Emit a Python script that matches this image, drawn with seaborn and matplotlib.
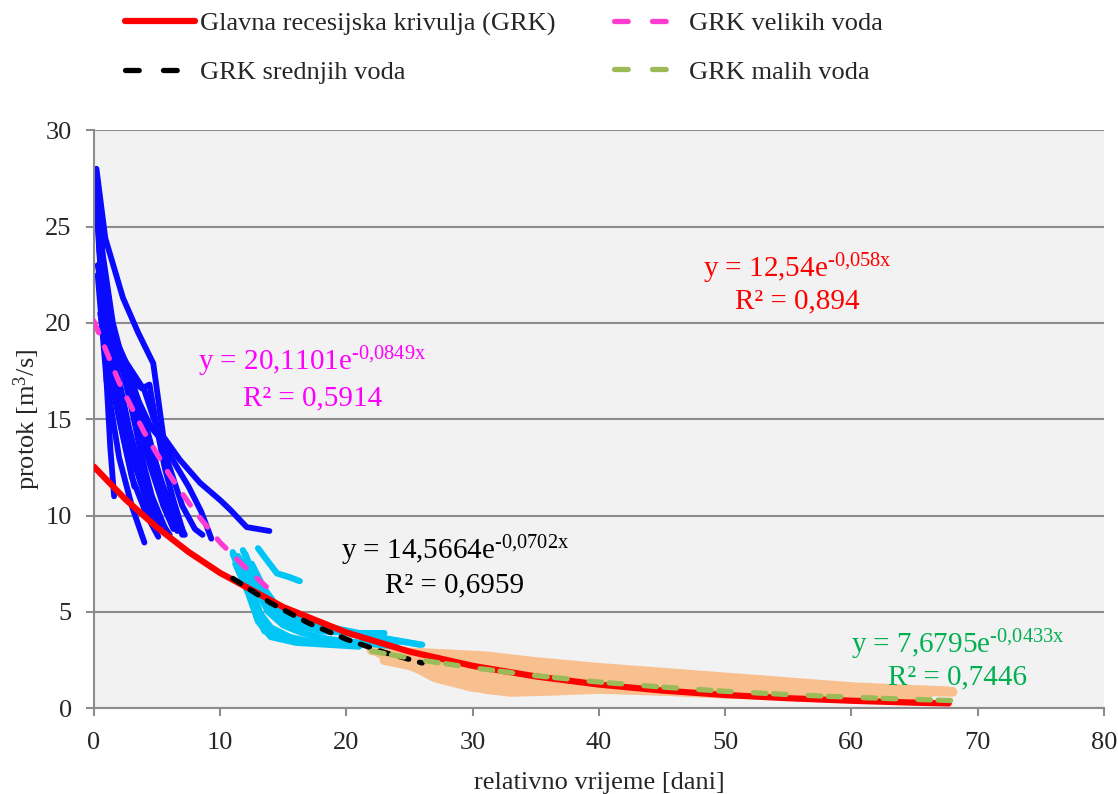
import pandas as pd
import matplotlib.pyplot as plt
import seaborn as sns

# --- recession segments (dani, m3/s) ---
blue_x = [
    [0.2, 0.9, 2.3, 3.5, 4.7, 5.5, 6.8, 8.4, 10.0, 10.8, 12.1, 13.9],
    [0.1, 0.6, 1.5, 2.5, 3.5, 4.5, 5.5, 6.5, 7.5, 8.5, 9.3],
    [0.3, 1.0, 2.0, 3.0, 4.0],
    [0.5, 1.2, 2.0, 3.0, 4.2, 5.1],
    [0.8, 1.5, 2.5, 3.5, 4.5, 5.5, 6.3],
    [1.0, 2.0, 3.0, 4.0, 5.0, 6.0, 7.0],
    [1.5, 2.5, 3.5, 4.5, 5.5, 6.5, 7.2],
    [0.2, 0.6, 1.3, 2.3, 3.3, 4.3, 5.0],
    [0.4, 1.0, 1.8, 2.8, 3.8, 5.0, 6.0],
    [2.0, 3.0, 4.0, 5.0, 6.0, 7.0, 8.0, 8.6],
    [3.0, 3.8, 4.4, 5.0, 5.6, 6.3, 7.0],
    [0.6, 0.8, 1.0, 1.3, 1.6],
    [0.3, 0.7, 1.2, 2.0, 2.8, 3.6, 4.4, 5.4],
    [1.2, 1.8, 2.6, 3.4, 4.2, 5.0, 5.8, 6.6],
    [0.9, 1.4, 2.2, 3.0, 3.8, 4.6, 5.6],
    [0.15, 0.4, 0.8, 1.4, 2.2, 3.2],
]
blue_y = [
    [28.0, 24.4, 21.3, 19.5, 17.9, 14.1, 12.9, 11.7, 10.8, 10.3, 9.4, 9.2],
    [27.5, 24.0, 20.0, 17.5, 16.0, 14.6, 13.8, 12.6, 11.5, 10.2, 8.8],
    [22.5, 17.0, 13.0, 10.5, 8.6],
    [20.5, 17.5, 15.0, 12.0, 10.0, 8.9],
    [21.0, 19.5, 17.0, 14.5, 12.5, 10.5, 9.3],
    [20.0, 18.5, 16.5, 14.0, 12.0, 10.5, 9.0],
    [19.5, 18.0, 16.0, 13.5, 11.5, 10.0, 9.0],
    [26.0, 22.0, 18.0, 15.0, 12.5, 10.5, 9.5],
    [24.0, 20.0, 16.5, 14.0, 12.0, 10.0, 9.0],
    [18.5, 17.5, 16.5, 14.5, 12.5, 10.5, 9.3, 9.0],
    [17.0, 16.6, 16.8, 14.5, 12.5, 10.8, 9.3],
    [25.0, 21.0, 17.0, 13.5, 11.0],
    [23.0, 21.5, 19.5, 17.0, 14.5, 12.5, 10.8, 9.5],
    [20.0, 19.0, 17.5, 16.0, 14.5, 12.5, 10.5, 9.2],
    [22.0, 20.0, 17.8, 15.5, 13.0, 11.0, 9.4],
    [27.0, 24.5, 21.0, 17.5, 14.5, 11.5],
]
cyan_x = [
    [11.0, 12.0, 13.0, 14.0, 15.5, 17.5, 20.0, 22.0],
    [11.5, 12.5, 13.5, 15.0, 17.0, 19.5, 22.5, 25.8],
    [13.0, 13.8, 14.5, 15.5, 16.3],
    [12.0, 12.8, 13.5, 14.5, 16.0, 18.0, 20.5, 23.0],
    [11.2, 12.2, 13.0, 14.0, 16.0, 18.5, 21.0],
    [12.5, 13.5, 14.5, 16.0, 18.0, 21.0, 24.0, 26.0],
    [11.0, 11.8, 12.6, 13.5, 15.0],
    [11.4, 12.4, 13.2, 14.2, 15.5, 17.0, 19.0],
    [11.8, 12.6, 13.4, 14.4, 16.0, 18.0, 20.0, 22.0],
    [12.2, 13.0, 13.8, 15.0, 16.5, 18.5, 21.0, 24.0],
]
cyan_y = [
    [8.0, 6.5, 5.0, 4.2, 3.7, 3.4, 3.3, 3.4],
    [7.8, 6.8, 5.8, 5.0, 4.5, 4.1, 3.7, 3.3],
    [8.3, 7.6, 7.0, 6.8, 6.6],
    [8.0, 6.6, 5.4, 4.8, 4.3, 4.0, 3.9, 3.9],
    [7.5, 6.0, 4.5, 3.7, 3.4, 3.3, 3.2],
    [7.5, 6.2, 5.3, 4.6, 4.2, 3.8, 3.5, 3.3],
    [8.1, 7.0, 5.4, 4.0, 3.6],
    [7.9, 6.3, 4.9, 4.0, 3.6, 3.5, 3.5],
    [8.2, 7.0, 6.0, 5.2, 4.6, 4.2, 3.9, 3.6],
    [7.2, 6.0, 5.0, 4.3, 3.9, 3.6, 3.4, 3.2],
]
orange_x = [
    [22, 25, 28, 31, 35, 40, 45, 50, 55, 60, 65, 67.6],
    [23, 26, 29, 31, 33, 36, 40, 45, 50, 53],
    [24, 27, 30, 34, 38, 41],
    [25, 30, 35, 40, 45, 50, 55, 60, 63],
    [26, 30, 34, 38, 42, 46, 50, 53],
    [30, 35, 40, 45, 50, 55, 60, 65, 68],
    [22.5, 25, 27, 30, 33],
    [23, 26, 29, 33, 37, 42, 47, 52, 57, 62, 66],
    [28, 32, 36, 40, 44, 48, 52, 56],
]
orange_y = [
    [3.0, 2.9, 2.8, 2.7, 2.4, 2.1, 1.85, 1.6, 1.35, 1.1, 0.95, 0.88],
    [2.7, 2.0, 1.5, 1.0, 0.85, 0.9, 1.0, 0.9, 0.75, 0.7],
    [2.6, 2.2, 1.9, 1.7, 1.9, 2.0],
    [2.3, 1.7, 1.4, 1.25, 1.1, 0.95, 0.8, 0.65, 0.55],
    [2.8, 2.6, 2.2, 2.0, 1.8, 1.6, 1.5, 1.45],
    [2.4, 2.0, 1.7, 1.5, 1.3, 1.15, 1.0, 0.9, 0.85],
    [2.9, 2.3, 1.6, 1.1, 0.9],
    [2.5, 2.1, 1.8, 1.55, 1.4, 1.25, 1.1, 0.95, 0.8, 0.7, 0.6],
    [1.6, 1.3, 1.15, 1.1, 1.05, 1.0, 0.95, 0.85],
]

# --- fitted recession curves ---
grk_x = [0, 2.5, 5, 7.5, 10, 15, 20, 25, 30, 35, 40, 45, 50, 55, 60, 65, 67.7]
grk_y = [12.54, 10.84, 9.38, 8.11, 7.02, 5.25, 3.93, 2.94, 2.20, 1.65, 1.23, 0.92, 0.69, 0.52, 0.39, 0.29, 0.25]
velike_x = [0, 2, 4, 6, 8, 10, 12, 14]
velike_y = [20.1, 16.9, 14.3, 12.1, 10.2, 8.6, 7.3, 6.1]
srednje_x = [11, 14, 17, 20, 23, 26]
srednje_y = [6.74, 5.46, 4.42, 3.58, 2.90, 2.35]
male_x = [22, 26, 30, 35, 40, 45, 50, 55, 60, 65, 68]
male_y = [2.96, 2.49, 2.10, 1.69, 1.36, 1.10, 0.88, 0.71, 0.57, 0.46, 0.40]


def segments(xs, ys):
    rows = []
    for i, (sx, sy) in enumerate(zip(xs, ys)):
        for a, b in zip(sx, sy):
            rows.append({"seg": i, "x": a, "y": b})
    return pd.DataFrame(rows)


sns.set_style("white")
plt.rcParams['font.family'] = ['Liberation Serif', 'DejaVu Serif']
plt.rcParams['mathtext.fontset'] = 'custom'
plt.rcParams['mathtext.rm'] = 'Liberation Serif'
plt.rcParams['mathtext.it'] = 'Liberation Serif'

fig = plt.figure(figsize=(11.18, 7.94), dpi=100)
ax = fig.add_axes([0.084, 0.108, 0.9035, 0.728])
ax.set_facecolor('#f2f2f2')

common = dict(x='x', y='y', units='seg', estimator=None, sort=False, legend=False, ax=ax)
sns.lineplot(data=segments(orange_x, orange_y), color='#f9c08f', lw=7, zorder=2,
             solid_capstyle='round', **common)
sns.lineplot(data=segments(cyan_x, cyan_y), color='#00c5f5', lw=4.5, zorder=2,
             solid_capstyle='round', **common)
sns.lineplot(data=segments(blue_x, blue_y), color='#0a0aff', lw=4.2, zorder=2,
             solid_capstyle='round', **common)

sns.lineplot(x=grk_x, y=grk_y, color='#ff0000', lw=4.5, ax=ax, zorder=4,
             label='Glavna recesijska krivulja (GRK)')
sns.lineplot(x=srednje_x, y=srednje_y, color='black', lw=3.8, ax=ax, zorder=5,
             dashes=(1.8, 2.1), label='GRK srednjih voda')
sns.lineplot(x=velike_x, y=velike_y, color='#ff3cd2', lw=3.8, ax=ax, zorder=5,
             dashes=(2.4, 2.9), label='GRK velikih voda')
sns.lineplot(x=male_x, y=male_y, color='#9bbb59', lw=3.8, ax=ax, zorder=5,
             dashes=(2.4, 1.4, 2.4, 4.2), label='GRK malih voda')
for ln in ax.get_lines()[-3:]:
    ln.set_dash_capstyle('round')

ax.set_xlim(0, 80)
ax.set_ylim(0, 30)
ax.set_xticks(range(0, 81, 10))
ax.set_yticks(range(0, 31, 5))
ax.grid(axis='y', color='#8c8c8c', lw=1.5, zorder=1)
ax.set_axisbelow(True)
for side in ['top', 'right']:
    ax.spines[side].set_visible(False)
for side in ['left', 'bottom']:
    ax.spines[side].set_color('#8c8c8c')
    ax.spines[side].set_linewidth(1.5)
ax.tick_params(axis='both', direction='out', length=6, width=1.5, color='#8c8c8c',
               labelsize=19, left=True, bottom=True)
ax.tick_params(axis='y', pad=10)
ax.tick_params(axis='x', pad=11)
ax.set_xlabel('relativno vrijeme [dani]', fontsize=19, labelpad=13)
ax.set_ylabel('protok [m$^3$/s]', fontsize=19, labelpad=2)

# equations
eq = dict(fontsize=21, ha='center', va='center')
ax.text(55.7, 22.8, r'y = 12,54e$^{\text{-0,058x}}$', color='#ff0000', **eq)
ax.text(55.7, 21.1, 'R² = 0,894', color='#ff0000', **eq)
ax.text(17.3, 18.0, r'y = 20,1101e$^{\text{-0,0849x}}$', color='#ff00ff', **eq)
ax.text(17.3, 16.1, 'R² = 0,5914', color='#ff00ff', **eq)
ax.text(28.6, 8.2, r'y = 14,5664e$^{\text{-0,0702x}}$', color='black', **eq)
ax.text(28.6, 6.4, 'R² = 0,6959', color='black', **eq)
ax.text(68.4, 3.3, r'y = 7,6795e$^{\text{-0,0433x}}$', color='#00b050', **eq)
ax.text(68.4, 1.6, 'R² = 0,7446', color='#00b050', **eq)

handles, labels = ax.get_legend_handles_labels()
ax.get_legend().remove()
leg = fig.legend(handles, labels, ncol=2, loc='upper left', bbox_to_anchor=(0.1, 1.002),
                 frameon=False, fontsize=19, handlelength=2.65, handletextpad=0.2,
                 columnspacing=2.2, labelspacing=0.95, borderpad=0)
# two dashes per dashed legend key, like the original
for ln in leg.get_lines()[1:]:
    ln.set_dashes((2.6, 4.6))

fig.savefig('out.png', dpi=100)
